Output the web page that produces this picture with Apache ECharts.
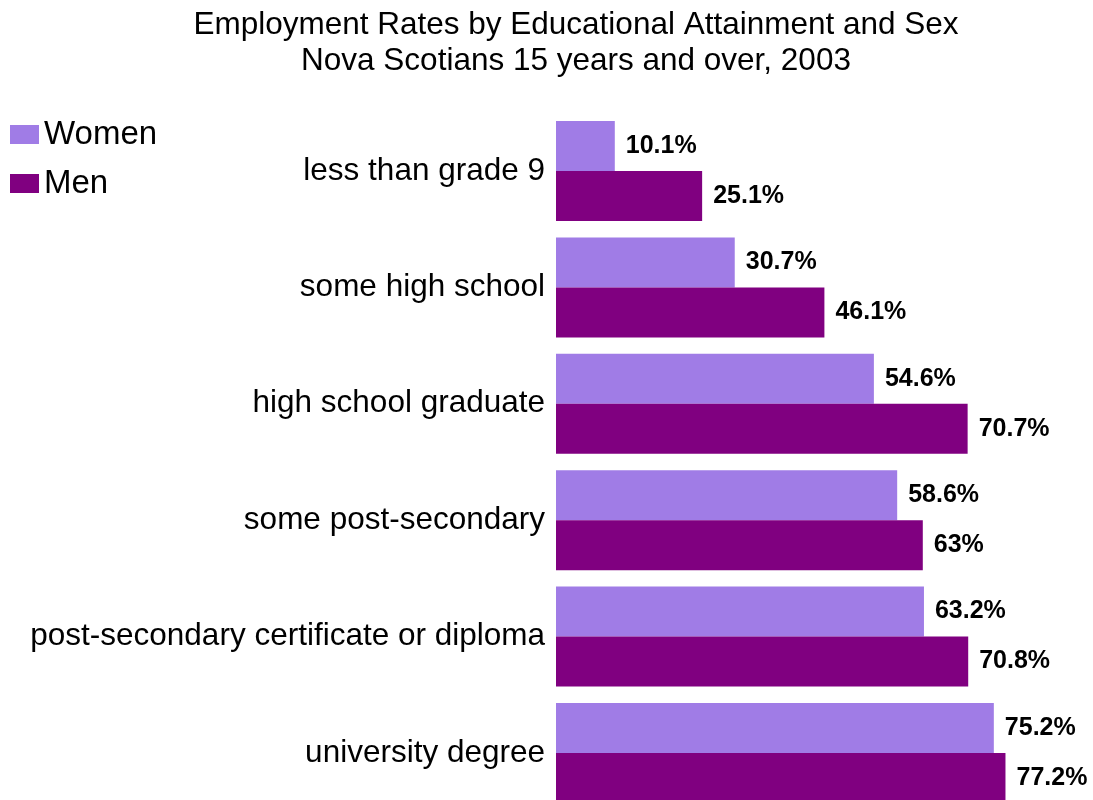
<!DOCTYPE html>
<html>
<head>
<meta charset="utf-8">
<title>Employment Rates by Educational Attainment and Sex</title>
<script src="https://cdn.jsdelivr.net/npm/echarts@6/dist/echarts.min.js"></script>
<style>
  html, body { margin: 0; padding: 0; background: #ffffff; }
  #chart { width: 1093px; height: 800px; }
</style>
</head>
<body>
<div id="chart"></div>
<script>
// Education levels, top to bottom
const categories = [
  'less than grade 9',
  'some high school',
  'high school graduate',
  'some post-secondary',
  'post-secondary certificate or diploma',
  'university degree'
];

// Employment rate (%), Nova Scotians 15 years and over, 2003
const women = [10.1, 30.7, 54.6, 58.6, 63.2, 75.2];
const men = [25.1, 46.1, 70.7, 63, 70.8, 77.2];

const FONT = '"Liberation Sans", Arial, Helvetica, sans-serif';

const chart = echarts.init(document.getElementById('chart'), null, { renderer: 'canvas' });

const valueLabel = {
  show: true,
  position: 'right',
  distance: 11,
  formatter: '{c}%',
  color: '#000000',
  fontFamily: FONT,
  fontWeight: 'bold',
  fontSize: 25
};

chart.setOption({
  backgroundColor: '#ffffff',
  animation: false,
  title: {
    text: 'Employment Rates by Educational Attainment and Sex\nNova Scotians 15 years and over, 2003',
    left: 571,
    top: 2,
    textAlign: 'center',
    padding: 5,
    textStyle: {
      fontFamily: FONT,
      fontWeight: 'normal',
      fontSize: 31.5,
      lineHeight: 36,
      color: '#000000'
    }
  },
  legend: {
    orient: 'vertical',
    left: 10,
    top: 118,
    padding: 0,
    itemWidth: 29,
    itemHeight: 19,
    itemGap: 16,
    icon: 'rect',
    textStyle: {
      fontFamily: FONT,
      fontSize: 33,
      color: '#000000'
    },
    data: ['Women', 'Men']
  },
  grid: {
    left: 556,
    right: 13,
    top: 112.8,
    height: 698.4,
    outerBoundsMode: 'none',
    containLabel: false
  },
  xAxis: {
    type: 'value',
    min: 0,
    max: 90,
    show: false,
    splitLine: { show: false }
  },
  yAxis: {
    type: 'category',
    data: categories,
    inverse: true,
    axisLine: { show: false },
    axisTick: { show: false },
    axisLabel: {
      margin: 11,
      color: '#000000',
      fontFamily: FONT,
      fontSize: 31.5
    }
  },
  series: [
    {
      name: 'Women',
      type: 'bar',
      data: women,
      barGap: '0%',
      barCategoryGap: '14.1%',
      itemStyle: { color: '#A07CE6' },
      label: valueLabel
    },
    {
      name: 'Men',
      type: 'bar',
      data: men,
      barGap: '0%',
      barCategoryGap: '14.1%',
      itemStyle: { color: '#800080' },
      label: valueLabel
    }
  ]
});
</script>
</body>
</html>
